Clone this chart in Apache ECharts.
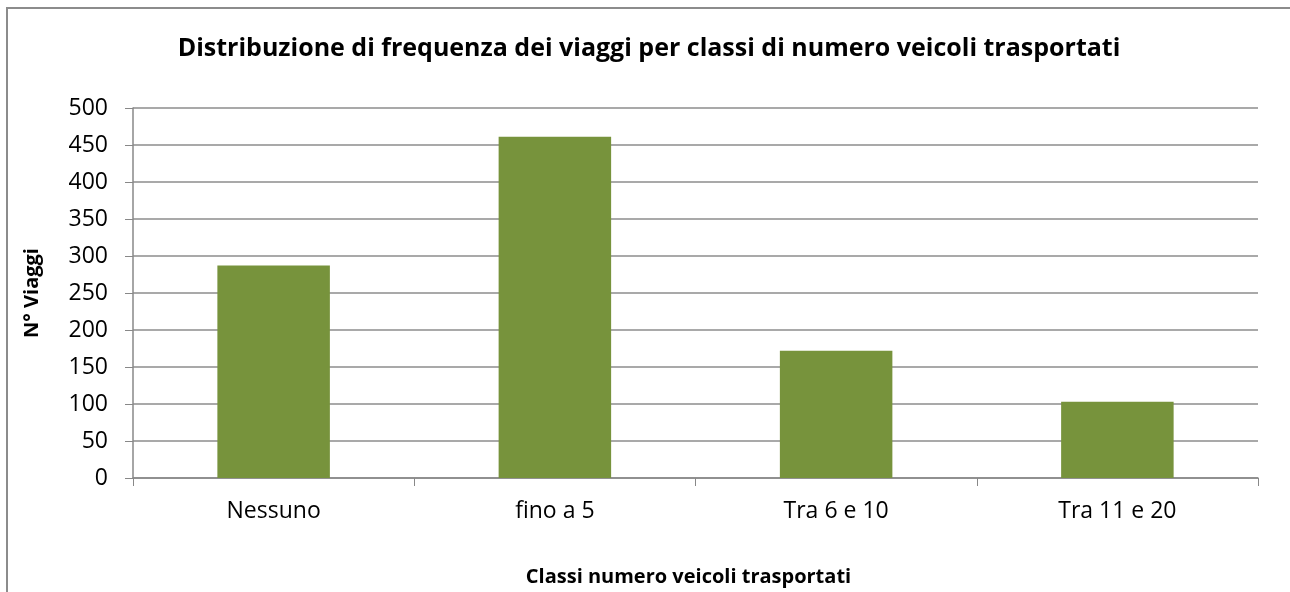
<!DOCTYPE html>
<html>
<head>
<meta charset="utf-8">
<script src="https://cdn.jsdelivr.net/npm/echarts@6/dist/echarts.min.js"></script>
<style>html,body{margin:0;padding:0;background:#fff}#c{width:1290px;height:592px}</style>
</head>
<body>
<div id="c"></div>
<script>
const categories = ['Nessuno', 'fino a 5', 'Tra 6 e 10', 'Tra 11 e 20'];
const values = [287, 461, 172, 103];
const titleText = 'Distribuzione di frequenza dei viaggi per classi di numero veicoli trasportati';
const xTitle = 'Classi numero veicoli trasportati';
const yTitle = 'N° Viaggi';

const FONT = '"Open Sans", "Liberation Sans", sans-serif';
const chart = echarts.init(document.getElementById('c'), null, {renderer: 'canvas'});
chart.setOption({
  animation: false,
  backgroundColor: '#fff',
  graphic: [{
    type: 'polyline', z: -1,
    shape: {points: [[7, 700], [7, 8], [1400, 8]]},
    style: {fill: 'none', stroke: '#8c8c8c', lineWidth: 2}
  }],
  title: {
    text: titleText, left: 644, top: 31, textAlign: 'center',
    textStyle: {fontFamily: FONT, fontWeight: 'bold', fontSize: 25, color: '#000'}
  },
  grid: {left: 133, right: 32, top: 108, bottom: 114, containLabel: false},
  xAxis: {
    type: 'category', data: categories,
    name: xTitle, nameLocation: 'middle', nameGap: 89,
    nameTextStyle: {fontFamily: FONT, fontWeight: 'bold', fontSize: 20, color: '#000', padding: [0, 14, 0, 0]},
    axisLine: {lineStyle: {color: '#888', width: 1.5}},
    axisTick: {show: true, alignWithLabel: false, length: 8, lineStyle: {color: '#888'}},
    axisLabel: {fontFamily: FONT, fontSize: 23, color: '#000', margin: 22}
  },
  yAxis: {
    type: 'value', min: 0, max: 500, interval: 50,
    name: yTitle, nameLocation: 'middle', nameGap: 91, nameRotate: 90,
    nameTextStyle: {fontFamily: FONT, fontWeight: 'bold', fontSize: 20, color: '#000'},
    axisLine: {show: true, lineStyle: {color: '#888', width: 1.5}},
    axisTick: {show: true, length: 8, lineStyle: {color: '#888'}},
    axisLabel: {fontFamily: FONT, fontSize: 23, color: '#000', margin: 25},
    splitLine: {show: true, lineStyle: {color: '#8c8c8c', width: 1.5}}
  },
  series: [{
    type: 'bar', data: values, barWidth: '40%',
    itemStyle: {color: '#77933c'}
  }]
});
</script>
</body>
</html>
